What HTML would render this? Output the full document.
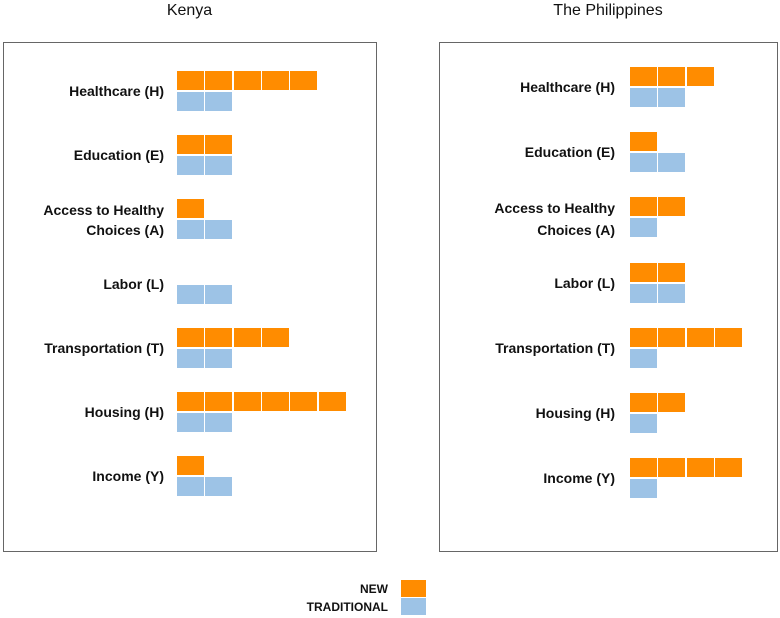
<!DOCTYPE html><html><head><style>
body{margin:0;width:780px;height:618px;background:#fff;font-family:"Liberation Sans",sans-serif;position:relative;overflow:hidden}
.b{position:absolute;border:1px solid #666;box-sizing:border-box}
.t{position:absolute;font-size:16px;color:#111;text-align:center}
.l{position:absolute;font-size:14px;font-weight:bold;color:#111;text-align:right;line-height:20px}
.c{position:absolute;width:27px;height:19px}
.o{background:#ff8c00}.u{background:#9dc3e6}
</style></head><body>
<div class="t" style="left:3px;width:373px;top:2px">Kenya</div>
<div class="t" style="left:439px;width:338px;top:2px">The Philippines</div>
<div class="b" style="left:3px;top:42px;width:374px;height:510px"></div>
<div class="b" style="left:439px;top:42px;width:339px;height:510px"></div>
<div id="g"></div>
<div class="l" style="left:250px;width:138px;top:579px;font-size:12px">NEW</div>
<div class="l" style="left:250px;width:138px;top:597px;font-size:12px">TRADITIONAL</div>
<div class="c o" style="left:401px;top:580px;width:25px;height:17px"></div>
<div class="c u" style="left:401px;top:598px;width:25px;height:17px"></div>
<script>
var g=document.getElementById('g'),h='';
function lab(x,y,t){h+='<div class="l" style="left:'+(x-200)+'px;width:200px;top:'+(y-10)+'px">'+t+'</div>';}
function row(x,y,n,c){for(var i=0;i<n;i++)h+='<div class="c '+c+'" style="left:'+(x+i*28.3)+'px;top:'+y+'px"></div>';}
var names=['Healthcare (H)','Education (E)','Access to Healthy<br>Choices (A)','Labor (L)','Transportation (T)','Housing (H)','Income (Y)'];
var ko=[5,2,1,0,4,6,1],kb=[2,2,2,2,2,2,2],po=[3,1,2,2,4,2,4],pb=[2,2,1,2,1,1,1];
var kY=[71,135,199,264,328,392,456],pY=[67,132,197,263,328,393,458];
for(var i=0;i<7;i++){
 row(177,kY[i],ko[i],'o');row(177,kY[i]+21,kb[i],'u');
 row(630,pY[i],po[i],'o');row(630,pY[i]+21,pb[i],'u');
 if(i==2){lab(164,kY[i]+11,'Access to Healthy');lab(164,kY[i]+31,'Choices (A)');lab(615,pY[i]+11,'Access to Healthy');lab(615,pY[i]+33,'Choices (A)');}
 else{lab(164,kY[i]+20,names[i]);lab(615,pY[i]+20,names[i]);}
}
g.innerHTML=h;
</script>
</body></html>
